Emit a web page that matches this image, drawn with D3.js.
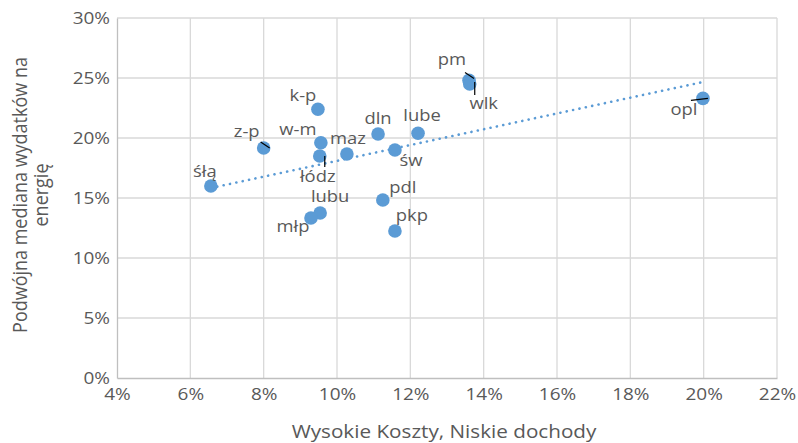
<!DOCTYPE html>
<html>
<head>
<meta charset="utf-8">
<script src="https://cdn.jsdelivr.net/npm/d3@7"></script>
<style>
  body { margin: 0; background: #fff; }
  text { font-family: "Open Sans", sans-serif; fill: #595959; }
</style>
</head>
<body>
<div id="chart"></div>
<script>
// regions and their values (fractions)
var regions = ["śłą", "z-p", "k-p", "w-m", "łódz", "maz", "dln", "lube", "św", "pdl", "pkp", "lubu", "młp", "pm", "wlk", "opl"];
var highCostLowIncome = [0.0656, 0.080, 0.0948, 0.0956, 0.0953, 0.1027, 0.1112, 0.1221, 0.1158, 0.1125, 0.1158, 0.0954, 0.0929, 0.1360, 0.1362, 0.1998];
var doubleMedian = [0.160, 0.1917, 0.224, 0.196, 0.185, 0.1867, 0.2033, 0.204, 0.190, 0.1483, 0.1225, 0.1375, 0.1333, 0.248, 0.245, 0.233];
var xTicks = [0.04, 0.06, 0.08, 0.10, 0.12, 0.14, 0.16, 0.18, 0.20, 0.22];
var yTicks = [0, 0.05, 0.10, 0.15, 0.20, 0.25, 0.30];

// label placement (pixel offsets from the point) and leader lines
var labelPos = {
  "śłą": [-6, -15], "z-p": [-17, -17], "k-p": [-15, -14], "w-m": [-23, -13],
  "łódz": [-2, 20], "maz": [1, -16], "dln": [0, -16], "lube": [4, -18],
  "św": [16, 10], "pdl": [20, -13], "pkp": [17, -16], "lubu": [10, -17],
  "młp": [-18, 8], "pm": [-17, -21], "wlk": [14, 19], "opl": [-19, 11]
};
var leaders = {
  "z-p": [[-3, -6], [6, 0]], "łódz": [[5, 0], [5, 11]],
  "pm": [[-4, -8], [5, -2]], "wlk": [[5, -2], [5, 11]], "opl": [[-12, 2], [5, 0]]
};

// the reference text is a little wider than it is tall
var S = 1.15;

var data = regions.map(function(r, i) {
  return { name: r, x: highCostLowIncome[i], y: doubleMedian[i] };
});

var margin = {top: 18, right: 21, bottom: 65, left: 117},
    width = 798 - margin.left - margin.right,
    height = 443 - margin.top - margin.bottom;

var x = d3.scaleLinear().domain([0.04, 0.22]).range([0, width]);
var y = d3.scaleLinear().domain([0, 0.30]).range([height, 0]);
var fmt = d3.format(".0%");

var svg = d3.select("#chart").append("svg")
    .attr("width", 798)
    .attr("height", 443)
  .append("g")
    .attr("transform", "translate(" + margin.left + "," + margin.top + ")");

// gridlines
svg.append("g").selectAll("line.h")
    .data(yTicks.slice(1)).enter().append("line")
    .attr("x1", 0).attr("x2", width)
    .attr("y1", function(d) { return y(d); }).attr("y2", function(d) { return y(d); })
    .attr("stroke", "#d9d9d9").attr("stroke-width", 1.3);
svg.append("g").selectAll("line.v")
    .data(xTicks.slice(1)).enter().append("line")
    .attr("y1", 0).attr("y2", height)
    .attr("x1", function(d) { return x(d); }).attr("x2", function(d) { return x(d); })
    .attr("stroke", "#d9d9d9").attr("stroke-width", 1.3);

// axes
var xAxis = d3.axisBottom(x).tickValues(xTicks).tickFormat(fmt).tickSize(0).tickPadding(10);
var yAxis = d3.axisLeft(y).tickValues(yTicks).tickFormat(fmt).tickSize(0).tickPadding(7);

var gx = svg.append("g").attr("transform", "translate(0," + height + ")").call(xAxis);
var gy = svg.append("g").call(yAxis);
[gx, gy].forEach(function(g) {
  g.select(".domain").attr("stroke", "#bfbfbf").attr("stroke-width", 1.3);
  g.selectAll("text").style("font-size", "16.5px").attr("fill", "#595959")
    .attr("x", function() { return (+d3.select(this).attr("x") || 0) / S; })
    .attr("transform", "scale(" + S + ",1)");
});

// linear trendline (least squares) across the data range
var mx = d3.mean(data, function(d) { return d.x; }),
    my = d3.mean(data, function(d) { return d.y; });
var slope = d3.sum(data, function(d) { return (d.x - mx) * (d.y - my); }) /
            d3.sum(data, function(d) { return (d.x - mx) * (d.x - mx); });
var x0 = d3.min(data, function(d) { return d.x; }), x1 = d3.max(data, function(d) { return d.x; });
svg.append("line")
    .attr("x1", x(x0)).attr("y1", y(my + slope * (x0 - mx)))
    .attr("x2", x(x1)).attr("y2", y(my + slope * (x1 - mx)))
    .attr("stroke", "#5b9bd5").attr("stroke-width", 2.6)
    .attr("stroke-linecap", "round")
    .attr("stroke-dasharray", "0.1,6.4");

// points
svg.append("g").selectAll("circle")
    .data(data).enter().append("circle")
    .attr("cx", function(d) { return x(d.x); })
    .attr("cy", function(d) { return y(d.y); })
    .attr("r", 6.8)
    .attr("fill", "#5b9bd5");

// leader lines
svg.append("g").selectAll("path")
    .data(data.filter(function(d) { return leaders[d.name]; })).enter().append("path")
    .attr("d", function(d) {
      var l = leaders[d.name], px = x(d.x), py = y(d.y);
      return "M" + (px + l[0][0]) + "," + (py + l[0][1]) + "L" + (px + l[1][0]) + "," + (py + l[1][1]);
    })
    .attr("stroke", "#000").attr("stroke-width", 1.2).attr("fill", "none");

// data labels
svg.append("g").selectAll("text")
    .data(data).enter().append("text")
    .attr("transform", "scale(" + S + ",1)")
    .attr("x", function(d) { return (x(d.x) + labelPos[d.name][0]) / S; })
    .attr("y", function(d) { return y(d.y) + labelPos[d.name][1]; })
    .attr("dy", "0.35em")
    .attr("text-anchor", "middle")
    .style("font-size", "16px")
    .text(function(d) { return d.name; });

// axis titles
svg.append("text")
    .attr("transform", "scale(" + S + ",1)")
    .attr("x", (width / 2 - 3) / S)
    .attr("y", height + 60)
    .attr("text-anchor", "middle")
    .style("font-size", "18px")
    .text("Wysokie Koszty, Niskie dochody");

var yt = svg.append("text")
    .attr("transform", "translate(-90," + (height / 2 - 3) + ") rotate(-90) scale(1," + S + ")")
    .attr("text-anchor", "middle")
    .style("font-size", "18px");
yt.append("tspan").attr("x", 0).attr("dy", "0").text("Podwójna mediana wydatków na");
yt.append("tspan").attr("x", 0).attr("dy", "1.0em").text("energię");
</script>
</body>
</html>
